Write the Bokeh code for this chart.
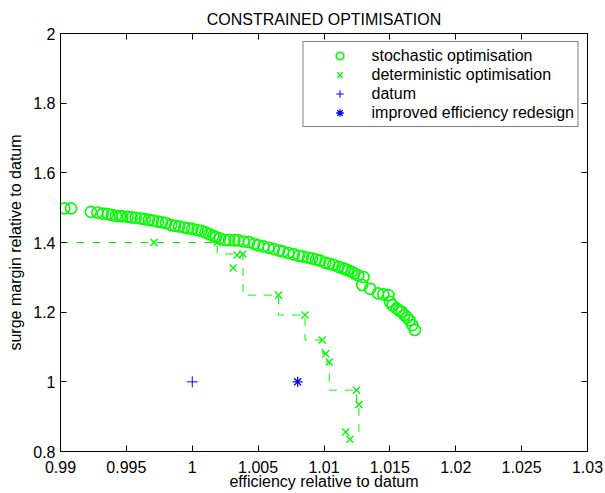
import numpy as np
from bokeh.plotting import figure
from bokeh.models import Range1d, FixedTicker, LinearAxis, Legend, LegendItem
from bokeh.embed import file_html
from bokeh.resources import INLINE

# ---------------- data ----------------
stoch_x = [0.9903, 0.9908, 0.9923, 0.9928, 0.9932, 0.9936, 0.9939, 0.9942, 0.9945, 0.9947,
           0.9951, 0.9954, 0.9957, 0.9961, 0.9964, 0.9967, 0.9970, 0.9974, 0.9977, 0.9980,
           0.9984, 0.9987, 0.9990, 0.9994, 0.9997, 1.0000, 1.0004, 1.0007, 1.0010, 1.0013,
           1.0016, 1.0018, 1.0021, 1.0025, 1.0028, 1.0032, 1.0035, 1.0039, 1.0043, 1.0047,
           1.0050, 1.0054, 1.0058, 1.0062, 1.0066, 1.0069, 1.0073, 1.0077, 1.0081, 1.0084,
           1.0088, 1.0091, 1.0094, 1.0097, 1.0101, 1.0104, 1.0107, 1.0111, 1.0114, 1.0116,
           1.0118, 1.0121, 1.0123, 1.0126, 1.0130, 1.0129, 1.0135, 1.0141, 1.0145, 1.0149,
           1.0150, 1.0152, 1.0155, 1.0157, 1.0159, 1.0161, 1.0163, 1.0165, 1.0167, 1.0169]
stoch_y = [1.498, 1.498, 1.488, 1.486, 1.483, 1.482, 1.479, 1.477, 1.476, 1.475,
           1.474, 1.472, 1.471, 1.469, 1.467, 1.465, 1.463, 1.460, 1.458, 1.456,
           1.450, 1.448, 1.446, 1.443, 1.441, 1.439, 1.436, 1.433, 1.429, 1.424,
           1.419, 1.416, 1.412, 1.407, 1.407, 1.406, 1.406, 1.403, 1.401, 1.396,
           1.392, 1.389, 1.385, 1.381, 1.377, 1.374, 1.370, 1.366, 1.362, 1.360,
           1.357, 1.354, 1.351, 1.348, 1.342, 1.339, 1.336, 1.330, 1.327, 1.324,
           1.321, 1.316, 1.311, 1.306, 1.301, 1.278, 1.267, 1.254, 1.251, 1.249,
           1.230, 1.220, 1.211, 1.205, 1.201, 1.192, 1.185, 1.177, 1.163, 1.149]

det_x = [0.9971, 1.0019, 1.0034, 1.00385, 1.0031, 1.00655, 1.00856, 1.00987, 1.01013,
         1.0104, 1.01247, 1.01265, 1.01164, 1.01197]
det_y = [1.400, 1.400, 1.364, 1.367, 1.327, 1.249, 1.192, 1.120, 1.081,
         1.057, 0.976, 0.935, 0.856, 0.835]

datum_x = [1.0]
datum_y = [1.0]
redesign_x = [1.008]
redesign_y = [1.0]

x_ticks = [0.99, 0.995, 1.0, 1.005, 1.01, 1.015, 1.02, 1.025, 1.03]
x_tick_labels = ["0.99", "0.995", "1", "1.005", "1.01", "1.015", "1.02", "1.025", "1.03"]
y_ticks = [0.8, 1.0, 1.2, 1.4, 1.6, 1.8, 2.0]
y_tick_labels = ["0.8", "1", "1.2", "1.4", "1.6", "1.8", "2"]

GREEN = "#00ff00"
BLUE = "#0000ff"
FONT = "Liberation Sans"
FS = "16px"

# ---------------- figure ----------------
p = figure(width=605, height=493, output_backend="svg", toolbar_location=None,
           x_range=Range1d(x_ticks[0], x_ticks[-1]), y_range=Range1d(y_ticks[0], y_ticks[-1]),
           min_border_left=60, min_border_right=18, min_border_top=33, min_border_bottom=42,
           title="CONSTRAINED OPTIMISATION")
p.title.align = "center"
p.title.text_font = FONT
p.title.text_font_size = FS
p.title.text_font_style = "normal"
p.title.text_color = "black"
p.title.standoff = 0
p.title.offset = 0
p.title.padding = 6

p.grid.visible = False
p.outline_line_color = "black"
p.outline_line_width = 1
p.background_fill_color = "white"
p.border_fill_color = "white"

x_over = {t: l for t, l in zip(x_ticks, x_tick_labels)}
y_over = {t: l for t, l in zip(y_ticks, y_tick_labels)}

xa = p.below[0]
ya = p.left[0]
xa.ticker = FixedTicker(ticks=x_ticks)
xa.major_label_overrides = x_over
xa.axis_label = "efficiency relative to datum"
xa.axis_label_standoff = -3
xa.major_label_standoff = 9
ya.ticker = FixedTicker(ticks=y_ticks)
ya.major_label_overrides = y_over
ya.axis_label = "surge margin relative to datum"
ya.axis_label_standoff = 6
ya.major_label_standoff = 5
for ax in [xa, ya]:
    ax.major_label_text_font_size = FS
    ax.axis_label_text_font_size = FS

# inward ticks on the top and right edges (no labels drawn)
top_ax = LinearAxis(ticker=FixedTicker(ticks=x_ticks))
right_ax = LinearAxis(ticker=FixedTicker(ticks=y_ticks))
for ax in [top_ax, right_ax]:
    ax.major_label_text_color = None
    ax.major_label_text_font_size = "1px"
    ax.axis_label_standoff = 0
    ax.major_label_standoff = 0
p.add_layout(top_ax, "above")
p.add_layout(right_ax, "right")

for ax in [xa, ya, top_ax, right_ax]:
    ax.major_tick_in = 6
    ax.major_tick_out = 0
    ax.minor_tick_in = 0
    ax.minor_tick_out = 0
    ax.major_tick_line_color = "black"
    ax.axis_line_color = "black"
    ax.major_label_text_font = FONT
    ax.axis_label_text_font = FONT
    ax.axis_label_text_color = "black"
    ax.axis_label_text_font_style = "normal"
xa.major_label_text_color = "black"
ya.major_label_text_color = "black"

# ---------------- deterministic front staircase ----------------
dx = np.array(det_x)
dy = np.array(det_y)
best = -np.inf
front = []
for i in np.argsort(-dx):
    if dy[i] > best:
        front.append(i)
        best = dy[i]
front = front[::-1]
fx = dx[front]
fy = dy[front]
vx = [x_ticks[0]]
vy = [fy[0]]
for k in range(len(fx)):
    nxt = fy[k + 1] if k + 1 < len(fx) else dy.min()
    vx += [fx[k], fx[k]]
    vy += [fy[k], nxt]
p.line(vx, vy, line_color=GREEN, line_width=1, line_dash="8 8")

# ---------------- markers ----------------
r_st = p.scatter(stoch_x, stoch_y, marker="circle", size=11, fill_color=None,
                 line_color=GREEN, line_width=1.6)
r_det = p.scatter(det_x, det_y, marker="x", size=10, line_color=GREEN, line_width=1.4)
r_dat = p.scatter(datum_x, datum_y, marker="cross", size=11, line_color=BLUE, line_width=1)
r_red = p.scatter(redesign_x, redesign_y, marker="asterisk", size=10, line_color=BLUE, line_width=1.3)

legend = Legend(items=[
    LegendItem(label="stochastic optimisation", renderers=[r_st]),
    LegendItem(label="deterministic optimisation", renderers=[r_det]),
    LegendItem(label="datum", renderers=[r_dat]),
    LegendItem(label="improved efficiency redesign", renderers=[r_red]),
], location="top_right")
legend.label_text_font = FONT
legend.label_text_font_size = FS
legend.label_text_color = "black"
legend.border_line_color = "black"
legend.border_line_width = 1
legend.background_fill_color = "white"
legend.background_fill_alpha = 1
legend.padding = 4
legend.glyph_width = 64
legend.glyph_height = 19
legend.label_height = 19
legend.label_standoff = 0
legend.spacing = 0
legend.margin = 8
p.add_layout(legend, "center")

open("out.html", "w").write(file_html(p, INLINE))
